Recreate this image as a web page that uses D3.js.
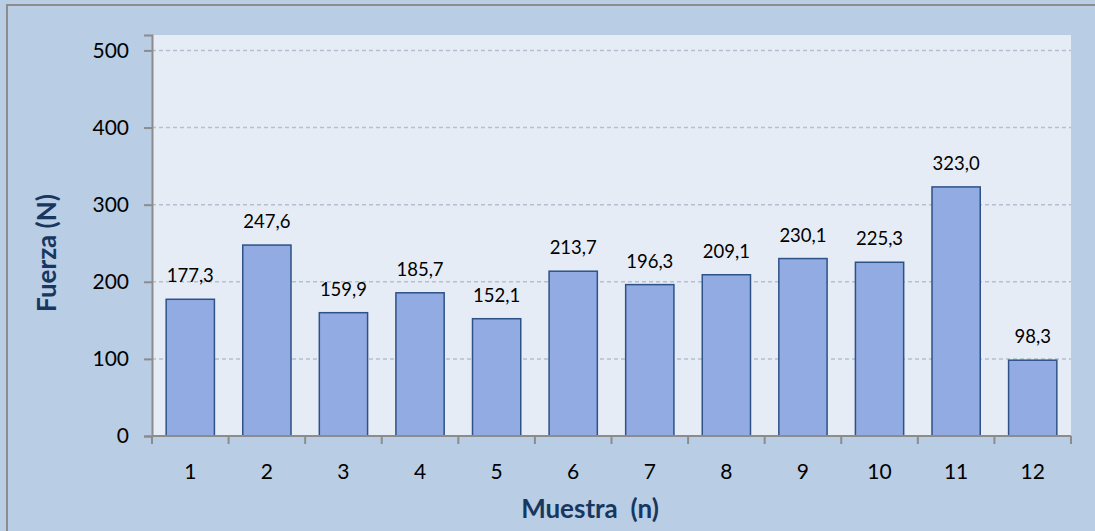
<!DOCTYPE html>
<html>
<head>
<meta charset="utf-8">
<script src="https://cdn.jsdelivr.net/npm/d3@7"></script>
<style>
  html, body { margin: 0; padding: 0; background: #b9cde5; }
  svg { display: block; }
</style>
</head>
<body>
<svg id="chart" width="1095" height="531"></svg>
<script>
// Muestras y fuerza medida (N)
const muestras = ["1","2","3","4","5","6","7","8","9","10","11","12"];
const fuerza = [177.3, 247.6, 159.9, 185.7, 152.1, 213.7, 196.3, 209.1, 230.1, 225.3, 323.0, 98.3];
const yTicks = [0, 100, 200, 300, 400, 500];

const W = 1095, H = 531;
const plot = { left: 152, top: 35, right: 1071, bottom: 436 };
const font = "Lato, 'Open Sans', sans-serif";
const tickSize = 21, labelSize = 18.5, titleSize = 26;

const svg = d3.select("#chart");

// fondo y marco exterior
svg.append("rect").attr("x", 0).attr("y", 0).attr("width", W).attr("height", H).attr("fill", "#b9cde5");
svg.append("rect").attr("x", 7).attr("y", 5).attr("width", W + 10).attr("height", H + 10)
  .attr("fill", "none").attr("stroke", "#8c8c8c").attr("stroke-width", 2);

// área de trazado
svg.append("rect")
  .attr("x", plot.left).attr("y", plot.top)
  .attr("width", plot.right - plot.left).attr("height", plot.bottom - plot.top)
  .attr("fill", "#e6ecf5");

const x = d3.scaleBand().domain(muestras).range([plot.left, plot.right]).paddingInner(0.37).paddingOuter(0.185);
const xb = d3.scaleBand().domain(muestras).range([plot.left, plot.right]);
const y = d3.scaleLinear().domain([0, 520]).range([plot.bottom, plot.top]);

// líneas de cuadrícula
svg.append("g").selectAll("line").data(yTicks.filter(d => d > 0)).join("line")
  .attr("x1", plot.left).attr("x2", plot.right)
  .attr("y1", d => y(d)).attr("y2", d => y(d))
  .attr("stroke", "#b4c0d0").attr("stroke-width", 1.5).attr("stroke-dasharray", "4,3");

// barras
svg.append("g").selectAll("rect").data(fuerza).join("rect")
  .attr("x", (d, i) => x(muestras[i]))
  .attr("y", d => y(d))
  .attr("width", x.bandwidth())
  .attr("height", d => y(0) - y(d))
  .attr("fill", "#93abe3")
  .attr("stroke", "#2c5288")
  .attr("stroke-width", 1.5);

// etiquetas de valor
const fmt = d => d.toFixed(1).replace(".", ",");
svg.append("g").selectAll("text").data(fuerza).join("text")
  .attr("x", (d, i) => x(muestras[i]) + x.bandwidth() / 2)
  .attr("y", d => y(d) - 17)
  .attr("text-anchor", "middle")
  .attr("font-family", font).attr("font-size", labelSize).attr("fill", "#000")
  .text(fmt);

// eje Y
const yAxis = d3.axisLeft(y).tickValues(yTicks).tickSize(8).tickPadding(15).tickFormat(d3.format("d"));
const gy = svg.append("g").attr("transform", `translate(${plot.left},0)`).call(yAxis);
gy.select(".domain").attr("stroke", "#8c8c8c").attr("stroke-width", 2);
gy.selectAll(".tick line").attr("stroke", "#8c8c8c").attr("stroke-width", 2);
gy.selectAll(".tick text").attr("font-family", font).attr("font-size", tickSize).attr("fill", "#000");

// eje X: marcas entre categorías
const gx = svg.append("g");
gx.append("line").attr("x1", plot.left).attr("x2", plot.right)
  .attr("y1", plot.bottom).attr("y2", plot.bottom)
  .attr("stroke", "#8c8c8c").attr("stroke-width", 2);
const edges = muestras.map(m => xb(m)).concat([xb(muestras[muestras.length - 1]) + xb.bandwidth()]);
gx.selectAll("line.tk").data(edges).join("line").attr("class", "tk")
  .attr("x1", d => d).attr("x2", d => d)
  .attr("y1", plot.bottom).attr("y2", plot.bottom + 8)
  .attr("stroke", "#8c8c8c").attr("stroke-width", 2);
gx.selectAll("text").data(muestras).join("text")
  .attr("x", d => xb(d) + xb.bandwidth() / 2)
  .attr("y", 479)
  .attr("text-anchor", "middle")
  .attr("font-family", font).attr("font-size", tickSize).attr("fill", "#000")
  .text(d => d);

// títulos de ejes
svg.append("text")
  .attr("x", 590).attr("y", 518)
  .attr("text-anchor", "middle")
  .attr("font-family", font).attr("font-size", titleSize).attr("font-weight", "bold").attr("fill", "#17375e")
  .style("white-space", "pre")
  .text("Muestra  (n)");

svg.append("text")
  .attr("transform", "translate(56,253) rotate(-90)")
  .attr("text-anchor", "middle")
  .attr("font-family", font).attr("font-size", titleSize).attr("font-weight", "bold").attr("fill", "#17375e")
  .text("Fuerza (N)");
</script>
</body>
</html>
